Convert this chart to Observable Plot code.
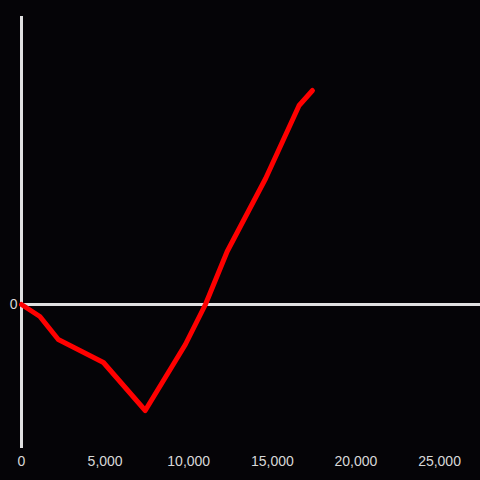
<!DOCTYPE html>
<html>
<head>
<meta charset="utf-8">
<script src="https://cdn.jsdelivr.net/npm/d3@7"></script>
<script src="https://cdn.jsdelivr.net/npm/@observablehq/plot@0.6"></script>
<style>
  html, body { margin: 0; padding: 0; background: #050407; }
  #chart svg { display: block; }
</style>
</head>
<body>
<div id="chart"></div>
<script>
const xValues = [0, 1100, 2200, 4900, 7400, 9800, 11000, 12300, 14600, 16600, 17400];
const yValues = [0, -120, -350, -580, -1060, -400, 0, 530, 1260, 1990, 2140];
const xTicks = [0, 5000, 10000, 15000, 20000, 25000];
const yTicks = [0];

const data = xValues.map((x, i) => ({x, y: yValues[i]}));

const chart = Plot.plot({
  width: 480,
  height: 480,
  marginLeft: 21,
  marginRight: 0,
  marginTop: 16,
  marginBottom: 32,
  style: {background: "#050407", color: "#d8d8d8", fontFamily: "Liberation Sans, Arial, sans-serif", fontSize: "14px"},
  x: {domain: [0, 27450], ticks: xTicks, tickFormat: d3.format(","), tickSize: 0, tickPadding: 8, label: null},
  y: {domain: [-1440, 2880], ticks: yTicks, tickSize: 0, tickPadding: 4, label: null},
  marks: [
    Plot.ruleY([0], {stroke: "#e0e0e0", strokeWidth: 3}),
    Plot.ruleX([0], {stroke: "#e0e0e0", strokeWidth: 3}),
    Plot.line(data, {x: "x", y: "y", stroke: "#ff0000", strokeWidth: 5, strokeLinejoin: "round", strokeLinecap: "round"})
  ]
});
document.getElementById("chart").appendChild(chart);
</script>
</body>
</html>
